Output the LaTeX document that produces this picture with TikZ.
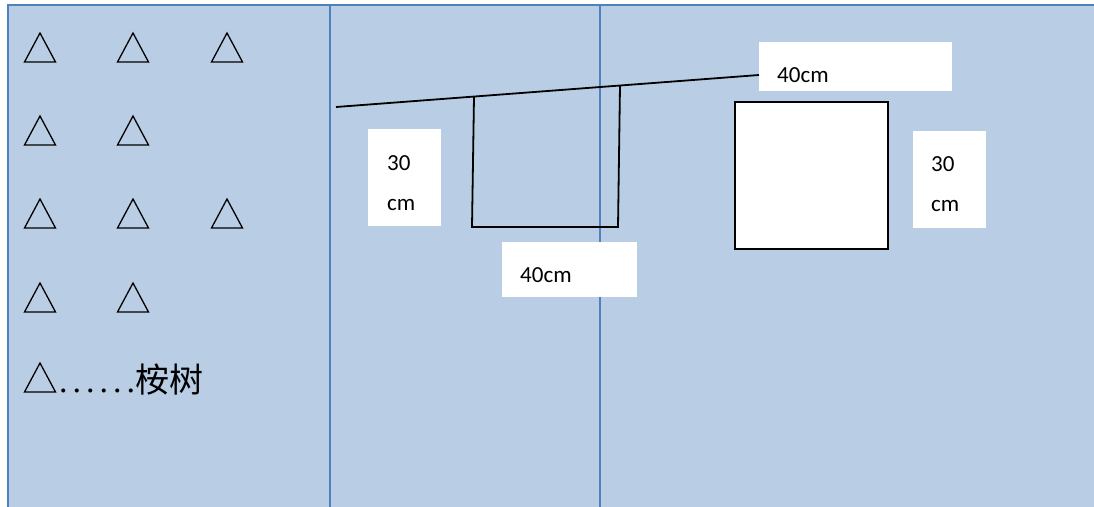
\documentclass[tikz,border=0pt]{standalone}
\usepackage{fontspec}
\setmainfont{Carlito}
\newfontfamily\cjk{Noto Sans CJK SC}
\newfontfamily\tnr{Liberation Serif}
\definecolor{bgblue}{RGB}{185,205,229}
\definecolor{edgeblue}{RGB}{79,129,189}
\begin{document}
\begin{tikzpicture}[x=1pt,y=-1pt,
  panel/.style={line width=2.5pt,draw=edgeblue},
  tri/.pic={\draw[line width=1.3pt,line join=miter] (-15.5,0) -- (0,-29) -- (15.5,0) -- cycle;},
  labelbox/.style={fill=white,draw=none,inner sep=0pt,anchor=north west},
  lbl/.style={font=\fontsize{23}{26}\selectfont,anchor=base west,inner sep=0pt},
  shelf/.style={line width=1.8pt,black}]
\useasboundingbox (0,0) rectangle (1094,506);
\fill[bgblue] (8,5) rectangle (1096,508);
\draw[panel] (1096,5) -- (8,5) -- (8,508);
\draw[panel] (330,5) -- (330,508);
\draw[panel] (600,5) -- (600,508);
% triangles
\foreach \x/\y in {40/62,133/62,227/62,40/145,133/145,40/228,133/228,227/228,40/312,133/312,40/392}
  \pic at (\x,\y) {tri};
\node[anchor=base west,inner sep=0pt,font=\fontsize{34}{36}\selectfont] (legend) at (56,392)
  {\hbox to 79pt{\tnr\hskip3pt.\hfil.\hfil.\hfil.\hfil.\hfil.}{\cjk 桉树}};
% middle shelf drawing
\coordinate (s1) at (336,107);
\coordinate (a) at (474,96.5);
\coordinate (b) at (620,85.5);
\coordinate (c) at (618,227);
\coordinate (d) at (472,227);
% label boxes
\node[labelbox,minimum width=73pt,minimum height=97pt] (m30) at (368,129) {};
\node[lbl] (m30a) at (387,170) {30};
\node[lbl] (m30b) at (387,210) {cm};
\node[labelbox,minimum width=135pt,minimum height=55pt] (m40) at (502,242) {};
\node[lbl] (m40t) at (520,282) {40cm};
\node[labelbox,minimum width=193pt,minimum height=49pt] (t40) at (759,42) {};
\node[lbl] (t40t) at (777,82) {40cm};
\node[labelbox,minimum width=73pt,minimum height=97pt] (r30) at (913,131) {};
\node[lbl] (r30a) at (931,171) {30};
\node[lbl] (r30b) at (931,211) {cm};
\draw[shelf] (s1) -- (t40.west |- 0,75);
\draw[shelf,line join=miter] (a) -- (d) -- (c) -- (b);
% white square
\node[fill=white,draw=black,line width=1.8pt,minimum width=153pt,minimum height=147pt,inner sep=0pt,anchor=north west] (sq) at (734,101) {};
\end{tikzpicture}
\end{document}
